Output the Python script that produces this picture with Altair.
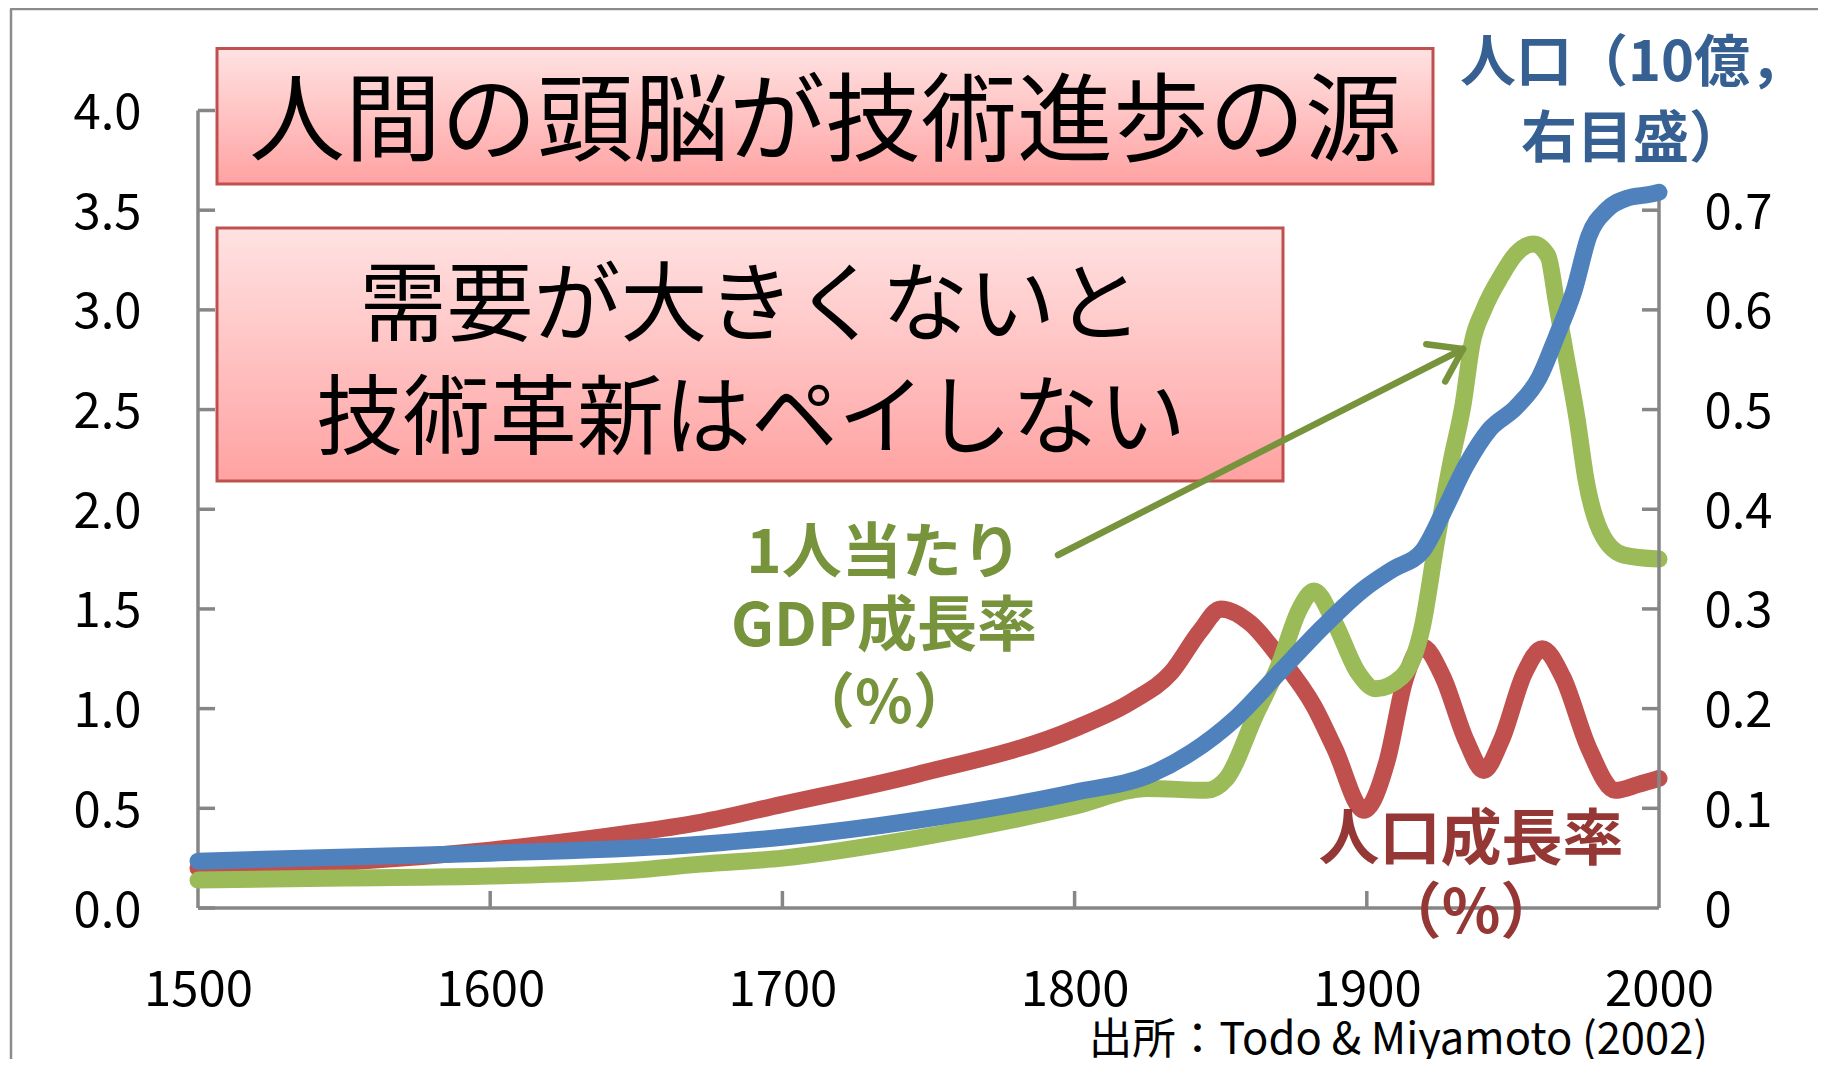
import math
import altair as alt
import pandas as pd

# ---------------- data ----------------
# 人口成長率 (%), left axis
red_years = [1500, 1550, 1600, 1650, 1672, 1700, 1746, 1800, 1820, 1833, 1843, 1850, 1860, 1870,
             1882, 1889, 1899, 1907, 1913, 1919, 1926, 1934, 1940, 1946, 1954, 1960, 1967, 1976,
             1985, 1993, 2000]
red_values = [0.20, 0.23, 0.29, 0.38, 0.43, 0.52, 0.67, 0.90, 1.04, 1.18, 1.39, 1.50, 1.43, 1.26,
              1.01, 0.80, 0.49, 0.74, 1.14, 1.31, 1.16, 0.84, 0.69, 0.84, 1.18, 1.30, 1.16, 0.80,
              0.59, 0.62, 0.65]

# 1人当たりGDP成長率 (%), left axis
green_years = [1500, 1550, 1600, 1650, 1672, 1700, 1746, 1800, 1825, 1845, 1852, 1862, 1870, 1877,
               1882, 1889, 1897, 1903, 1912, 1919, 1924, 1929, 1933, 1936, 1940, 1946, 1951, 1957,
               1962, 1965, 1968, 1972, 1975, 1981, 1988, 2000]
green_values = [0.14, 0.15, 0.16, 0.19, 0.22, 0.25, 0.35, 0.51, 0.60, 0.59, 0.65, 0.97, 1.22, 1.50,
                1.59, 1.43, 1.18, 1.10, 1.16, 1.41, 1.85, 2.25, 2.53, 2.83, 3.00, 3.17, 3.28, 3.33,
                3.27, 3.03, 2.78, 2.45, 2.15, 1.86, 1.77, 1.75]

# 人口 (10億), right axis
blue_years = [1500, 1600, 1672, 1700, 1746, 1800, 1826, 1840, 1855, 1870, 1885, 1899, 1909, 1919,
              1926, 1934, 1942, 1951, 1959, 1965, 1971, 1976, 1982, 1989, 1997, 2000]
blue_values = [0.047, 0.055, 0.064, 0.071, 0.088, 0.116, 0.134, 0.156, 0.190, 0.236, 0.282, 0.320,
               0.340, 0.358, 0.396, 0.444, 0.480, 0.502, 0.532, 0.574, 0.620, 0.674, 0.700, 0.712,
               0.716, 0.718]

x_labels = [1500, 1600, 1700, 1800, 1900, 2000]
x_inner_ticks = [1600, 1700, 1800, 1900]
left_labels = [0.0, 0.5, 1.0, 1.5, 2.0, 2.5, 3.0, 3.5, 4.0]
right_labels = [0, 0.1, 0.2, 0.3, 0.4, 0.5, 0.6, 0.7]
right_inner_ticks = [0.1, 0.2, 0.3, 0.4, 0.5, 0.6, 0.7]

title_main = ["人間の頭脳が技術進歩の源"]
title_sub = ["需要が大きくないと", "技術革新はペイしない"]
right_title = ["人口（10億，", "右目盛）"]
green_label = ["1人当たり", "GDP成長率", "（%）"]
red_label = ["人口成長率", "（%）"]
source_text = ["出所：Todo & Miyamoto (2002)"]

# ---------------- layout ----------------
W, H = 1461, 797.5
PAD_L, PAD_T = 190, 102.5
TOTAL_W, TOTAL_H = 1810, 1051
PAD_R = TOTAL_W - PAD_L - W
PAD_B = TOTAL_H - PAD_T - H


def px(page_x):
    return page_x - 8 - PAD_L


def py(page_y):
    return page_y - 8 - PAD_T


GRAY = "#868686"
RED = "#C0504D"
GREEN = "#9BBB59"
BLUE = "#4F81BD"
GREEN_TXT = "#77933C"
RED_TXT = "#953735"
BLUE_TXT = "#376092"
JP = "Noto Sans CJK JP"
LW = 17

XS = alt.Scale(domain=[1500, 2000], nice=False, zero=False)
YL = alt.Scale(domain=[0, 4], nice=False, zero=True)
YR = alt.Scale(domain=[0, 0.8], nice=False, zero=True)

one = pd.DataFrame({"k": [0]})

label_common = dict(domain=False, ticks=False, tickSize=0, grid=False, title=None,
                    labelFont=JP, labelFontSize=49, labelColor="black",
                    labelFlush=False, labelOverlap=False)

# the same axis objects are given to every layer, so that the shared axes merge cleanly
X_AXIS = alt.Axis(values=x_labels, format="d", labelPadding=82.5, labelBaseline="middle",
                  **label_common)
YL_AXIS = alt.Axis(values=left_labels, format=".1f", labelPadding=57, labelOffset=3,
                   **label_common)
YR_AXIS = alt.Axis(orient="right", values=right_labels, labelPadding=45, labelOffset=3,
                   labelExpr="datum.value == 0 ? '0' : format(datum.value, '.1f')",
                   **label_common)

red_df = pd.DataFrame({"year": red_years, "v": red_values})
green_df = pd.DataFrame({"year": green_years, "v": green_values})
blue_df = pd.DataFrame({"year": blue_years, "p": blue_values})

# ---------------- left-scale group ----------------
frame_top = alt.Chart(one).mark_rule(color="#8C8C8C", strokeWidth=2.5).encode(
    x=alt.value(px(10)), x2=alt.value(px(1830)), y=alt.value(py(9)), y2=alt.value(py(9)))
frame_left = alt.Chart(one).mark_rule(color="#8C8C8C", strokeWidth=2.5).encode(
    x=alt.value(px(11)), x2=alt.value(px(11)), y=alt.value(py(9)), y2=alt.value(py(1070)))

axis_left = alt.Chart(one).mark_rule(color=GRAY, strokeWidth=3.5).encode(
    x=alt.XDatum(1500, scale=XS, axis=X_AXIS),
    y=alt.YDatum(0, scale=YL, axis=YL_AXIS), y2=alt.datum(4))
axis_bottom = alt.Chart(one).mark_rule(color=GRAY, strokeWidth=3.5).encode(
    x=alt.XDatum(1500, scale=XS, axis=X_AXIS), x2=alt.datum(2000),
    y=alt.YDatum(0, scale=YL, axis=YL_AXIS))

ticks_left = alt.Chart(pd.DataFrame({"v": left_labels})).mark_rule(
    color=GRAY, strokeWidth=3.5, x2Offset=17).encode(
    x=alt.XDatum(1500, scale=XS, axis=X_AXIS), x2=alt.datum(1500),
    y=alt.Y("v:Q", scale=YL, axis=YL_AXIS))
ticks_bottom = alt.Chart(pd.DataFrame({"yr": x_inner_ticks})).mark_rule(
    color=GRAY, strokeWidth=3.5, y2Offset=-17).encode(
    x=alt.X("yr:Q", scale=XS, axis=X_AXIS),
    y=alt.YDatum(0, scale=YL, axis=YL_AXIS), y2=alt.datum(0))

red_line = alt.Chart(red_df).mark_line(
    color=RED, strokeWidth=LW, interpolate="monotone", strokeCap="round", strokeJoin="round").encode(
    x=alt.X("year:Q", scale=XS, axis=X_AXIS),
    y=alt.Y("v:Q", scale=YL, axis=YL_AXIS))
green_line = alt.Chart(green_df).mark_line(
    color=GREEN, strokeWidth=LW, interpolate="monotone", strokeCap="round", strokeJoin="round").encode(
    x=alt.X("year:Q", scale=XS, axis=X_AXIS),
    y=alt.Y("v:Q", scale=YL, axis=YL_AXIS))

grad = alt.LinearGradient(
    gradient="linear",
    stops=[alt.GradientStop(color="#FFE2E2", offset=0),
           alt.GradientStop(color="#FFA2A2", offset=1)],
    x1=0, x2=0, y1=0, y2=1)

box1 = alt.Chart(one).mark_rect(fill=grad, stroke=RED, strokeWidth=3).encode(
    x=alt.value(px(217)), x2=alt.value(px(1433)), y=alt.value(py(48.5)), y2=alt.value(py(184)))
box2 = alt.Chart(one).mark_rect(fill=grad, stroke=RED, strokeWidth=3).encode(
    x=alt.value(px(217)), x2=alt.value(px(1283)), y=alt.value(py(228)), y2=alt.value(py(481)))


def text_lines(lines, cx, cys, size, color, weight="normal", align="center", baseline="middle",
               font=JP):
    layers = []
    for t, cy in zip(lines, cys):
        layers.append(
            alt.Chart(pd.DataFrame({"t": [t]})).mark_text(
                align=align, baseline=baseline, font=font, fontSize=size, fontWeight=weight,
                color=color).encode(text="t:N", x=alt.value(px(cx)), y=alt.value(py(cy))))
    return layers


texts = []
texts += text_lines(title_main, 825, [116 + 0.08 * 96], 96, "black")
texts += text_lines(title_sub, 751, [302 + 0.08 * 87, 415 + 0.08 * 87], 87, "black")
texts += text_lines(right_title, 1633, [60 + 0.08 * 56, 136 + 0.08 * 56], 56, BLUE_TXT, "bold")
texts += text_lines(green_label, 884, [550 + 5, 623 + 5, 700 + 5], 60, GREEN_TXT, "bold")
texts += text_lines(red_label, 1471, [836 + 6, 909 + 6], 61, RED_TXT, "bold")
texts += text_lines(source_text, 1708, [1054], 43.5, "black", align="right", baseline="alphabetic")

# arrow
ax0, ay0, ax1, ay1 = 1058, 555, 1463, 349
ang = math.atan2(ay0 - ay1, ax0 - ax1)
arm = 37
arrow_parts = [(ax0, ay0, ax1, ay1)]
for d in (0.6, -0.6):
    arrow_parts.append((ax1, ay1, ax1 + arm * math.cos(ang + d), ay1 + arm * math.sin(ang + d)))
arrows = [
    alt.Chart(one).mark_rule(color=GREEN_TXT, strokeWidth=6.5, strokeCap="round").encode(
        x=alt.value(px(a)), y=alt.value(py(b)), x2=alt.value(px(c)), y2=alt.value(py(d)))
    for a, b, c, d in arrow_parts
]

left_group = alt.layer(frame_top, frame_left, axis_left, axis_bottom, ticks_left,
                       ticks_bottom, red_line, green_line, box1, box2, *texts, *arrows)

# ---------------- right-scale group ----------------
axis_right = alt.Chart(one).mark_rule(color=GRAY, strokeWidth=3.5).encode(
    x=alt.XDatum(2000, scale=XS, axis=X_AXIS),
    y=alt.YDatum(0, scale=YR, axis=YR_AXIS), y2=alt.datum(0.724))
ticks_right = alt.Chart(pd.DataFrame({"v": right_inner_ticks})).mark_rule(
    color=GRAY, strokeWidth=3.5, x2Offset=-17).encode(
    x=alt.XDatum(2000, scale=XS, axis=X_AXIS), x2=alt.datum(2000),
    y=alt.Y("v:Q", scale=YR, axis=YR_AXIS))
blue_line = alt.Chart(blue_df).mark_line(
    color=BLUE, strokeWidth=LW, interpolate="monotone", strokeCap="round", strokeJoin="round").encode(
    x=alt.X("year:Q", scale=XS, axis=X_AXIS),
    y=alt.Y("p:Q", scale=YR, axis=YR_AXIS))

right_group = alt.layer(axis_right, ticks_right, blue_line)

chart = alt.layer(left_group, right_group).resolve_scale(y="independent").properties(
    width=W, height=H,
    padding={"left": PAD_L, "top": PAD_T, "right": PAD_R, "bottom": PAD_B},
    autosize=alt.AutoSizeParams(type="none"),
    background="white",
).configure_view(stroke=None)

chart.save("out.html", embed_options={"renderer": "svg", "actions": False})
